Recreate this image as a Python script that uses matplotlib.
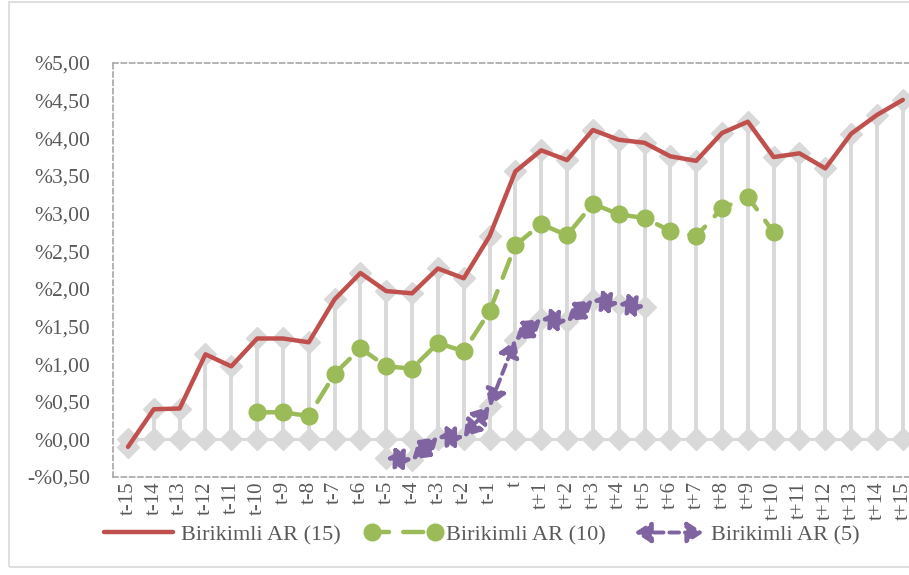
import numpy as np
import matplotlib
matplotlib.use("Agg")
import matplotlib.pyplot as plt
from matplotlib.patches import Rectangle, FancyArrowPatch
from matplotlib.lines import Line2D
from matplotlib.legend_handler import HandlerBase

categories = ["t-15", "t-14", "t-13", "t-12", "t-11", "t-10", "t-9", "t-8", "t-7", "t-6",
              "t-5", "t-4", "t-3", "t-2", "t-1", "t", "t+1", "t+2", "t+3", "t+4",
              "t+5", "t+6", "t+7", "t+8", "t+9", "t+10", "t+11", "t+12", "t+13", "t+14", "t+15"]

car15 = [-0.10, 0.40, 0.41, 1.13, 0.97, 1.34, 1.34, 1.29, 1.86, 2.21,
         1.97, 1.94, 2.27, 2.14, 2.70, 3.56, 3.84, 3.71, 4.11, 3.98,
         3.94, 3.76, 3.70, 4.07, 4.22, 3.75, 3.80, 3.60, 4.06, 4.31, 4.51]

car10 = [None, None, None, None, None, 0.36, 0.36, 0.31, 0.87, 1.21,
         0.97, 0.94, 1.28, 1.17, 1.70, 2.58, 2.86, 2.71, 3.13, 2.99,
         2.94, 2.77, 2.70, 3.07, 3.22, 2.75, None, None, None, None, None]

car5 = [None, None, None, None, None, None, None, None, None, None,
        -0.25, -0.27, 0.03, 0.03, 0.44, 1.32, 1.60, 1.57, 1.85, 1.80,
        1.76, None, None, None, None, None, None, None, None, None, None]

ytick_vals = [-0.5, 0.0, 0.5, 1.0, 1.5, 2.0, 2.5, 3.0, 3.5, 4.0, 4.5, 5.0]
ytick_labels = ["-%0,50", "%0,00", "%0,50", "%1,00", "%1,50", "%2,00", "%2,50",
                "%3,00", "%3,50", "%4,00", "%4,50", "%5,00"]
legend_labels = ["Birikimli AR (15)", "Birikimli AR (10)", "Birikimli AR (5)"]

RED = "#c0504d"
GREEN = "#9bbb59"
PURPLE = "#8064a2"
GRAY = "#d9d9d9"
TXT = "#595959"

plt.rcParams["font.family"] = ["Liberation Serif", "DejaVu Serif"]
FS = 15.5
XFS = 15
LFS = 16
ARROW = "<|-|>,head_length=0.7,head_width=0.45"
AMS = 14

W, H = 909, 575
fig = plt.figure(figsize=(W / 100, H / 100), dpi=100)

# outer chart frame
fig.patches.append(Rectangle((9 / W, 1 - 567 / H), 1.2, (567 - 2) / H,
                             transform=fig.transFigure, fill=False,
                             edgecolor=GRAY, linewidth=1.2))

x0, x1 = 113, 917
y0, y1 = 63, 477
ax = fig.add_axes([x0 / W, 1 - y1 / H, (x1 - x0) / W, (y1 - y0) / H])
ax.set_facecolor("none")
n = len(categories)
x = np.arange(n)
ax.set_xlim(-0.58, n - 1 + 0.55)
ax.set_ylim(-0.5, 5.0)

# zero line and drop lines
ax.plot(x, np.zeros(n), color=GRAY, lw=2.2, zorder=1)
for i in range(n):
    vals = [0.0] + [s[i] for s in (car15, car10, car5) if s[i] is not None]
    ax.plot([x[i], x[i]], [min(vals), max(vals)], color=GRAY, lw=2.8, zorder=1)
ax.plot(x, np.zeros(n), ls="none", marker="D", ms=11, color=GRAY, zorder=2)
for s in (car15, car5):
    xs = [x[i] for i in range(n) if s[i] is not None]
    ys = [s[i] for i in range(n) if s[i] is not None]
    ax.plot(xs, ys, ls="none", marker="D", ms=11, color=GRAY, zorder=2)

# red line
ax.plot(x, car15, color=RED, lw=3.2, solid_capstyle="round", zorder=5)

# green dashed with circles
gx = [x[i] for i in range(n) if car10[i] is not None]
gy = [car10[i] for i in range(n) if car10[i] is not None]
ax.plot(gx, gy, color=GREEN, lw=3.2, ls=(0, (4.5, 3.2)), dash_capstyle="round", zorder=4)
ax.plot(gx, gy, ls="none", marker="o", ms=12, color=GREEN, zorder=4)

# purple dashed with arrows on each segment
px = [x[i] for i in range(n) if car5[i] is not None]
py = [car5[i] for i in range(n) if car5[i] is not None]
for k in range(len(px) - 1):
    arr = FancyArrowPatch((px[k], py[k]), (px[k + 1], py[k + 1]),
                          arrowstyle=ARROW, mutation_scale=AMS, color=PURPLE, lw=2.8,
                          linestyle=(0, (2.5, 1.5)), shrinkA=0, shrinkB=0, zorder=6)
    ax.add_patch(arr)

# axes styling
for sp in ax.spines.values():
    sp.set_linestyle((0, (3, 2)))
    sp.set_color("#a6a6a6")
    sp.set_linewidth(1.2)
ax.set_yticks(ytick_vals)
ax.set_yticklabels(ytick_labels)
ax.set_xticks(x)
ax.set_xticklabels(categories, rotation=90, va="top", ha="center")
ax.tick_params(axis="both", length=0, colors=TXT)
ax.tick_params(axis="y", pad=16.5, labelsize=FS)
ax.tick_params(axis="x", pad=3.0, labelsize=XFS)


class GreenHandler(HandlerBase):
    def create_artists(self, legend, orig, xd, yd, w, h, fs, trans):
        yc = h / 2 - yd
        ln = Line2D([xd, xd + w], [yc, yc], color=GREEN, lw=3.2,
                    ls=(0, (4.5, 3.2)), dash_capstyle="round", transform=trans)
        mk = Line2D([xd + 2, xd + w - 2], [yc, yc], ls="none", marker="o", ms=12,
                    color=GREEN, transform=trans)
        return [ln, mk]


class PurpleHandler(HandlerBase):
    def create_artists(self, legend, orig, xd, yd, w, h, fs, trans):
        yc = h / 2 - yd
        a = FancyArrowPatch((xd, yc), (xd + w, yc),
                            arrowstyle=ARROW, mutation_scale=AMS, color=PURPLE, lw=2.8,
                            linestyle=(0, (2.5, 1.5)), shrinkA=0, shrinkB=0,
                            transform=trans)
        return [a]


h1 = Line2D([], [], color=RED, lw=3.2, solid_capstyle="round")
h2 = Line2D([], [], color=GREEN)
h3 = Line2D([], [], color=PURPLE)
leg = fig.legend([h1, h2, h3], legend_labels, loc="center",
                 bbox_to_anchor=(482 / W, 1 - 535 / H), ncol=3, frameon=False,
                 fontsize=LFS, handlelength=3.1, handletextpad=0.35, columnspacing=1.3,
                 handler_map={h2: GreenHandler(), h3: PurpleHandler()})
for t in leg.get_texts():
    t.set_color(TXT)

fig.savefig("out.png", dpi=100)
